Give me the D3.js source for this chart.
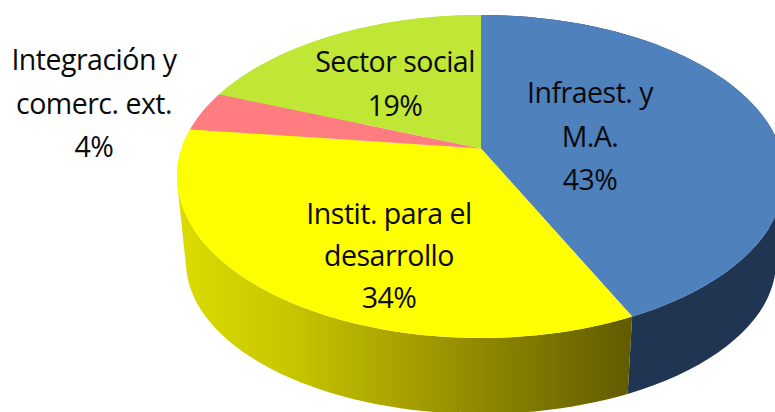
<!DOCTYPE html>
<html>
<head>
<meta charset="utf-8">
<script src="https://cdn.jsdelivr.net/npm/d3@7"></script>
<style>
html, body { margin: 0; padding: 0; background: #fff; overflow: hidden; }
text { font-family: "Open Sans", "Noto Sans", sans-serif; font-size: 28.5px; letter-spacing: -0.5px; fill: #0a0a0a; text-anchor: middle; }
</style>
</head>
<body>
<div id="chart"></div>
<script>
// values
var categories = ["Infraest. y M.A.", "Instit. para el desarrollo", "Integración y comerc. ext.", "Sector social"];
var values = [43, 34, 4, 19];
var labelLines = [["Infraest. y", "M.A.", "43%"], ["Instit. para el", "desarrollo", "34%"], ["Integración y", "comerc. ext.", "4%"], ["Sector social", "19%"]];
var topColors = ["#4f81bd", "#ffff00", "#ff7c80", "#c0e636"];

var w = 775, h = 412;

// where each label block goes (baseline of first line, line gap)
var labelPos = [
    {x: 590, y: 103, gap: 43.5},
    {x: 389, y: 224, gap: 42},
    {x: 94, y: 70, gap: 43.5},
    {x: 395, y: 72, gap: 44}
];

var svg = d3.select("#chart")
    .append("svg")
    .attr("width", w)
    .attr("height", h);

// gradient on the yellow side wall
var grad = svg.append("defs").append("linearGradient")
    .attr("id", "wall")
    .attr("gradientUnits", "userSpaceOnUse")
    .attr("x1", 177).attr("x2", 628).attr("y1", 0).attr("y2", 0);
grad.append("stop").attr("offset", "0%").attr("stop-color", "#dcdc00");
grad.append("stop").attr("offset", "25%").attr("stop-color", "#c8c600");
grad.append("stop").attr("offset", "55%").attr("stop-color", "#a09a00");
grad.append("stop").attr("offset", "100%").attr("stop-color", "#625c00");

var sideFill = ["#1f3552", "url(#wall)", "#ff7c80", "#c0e636"];

// unit disc to screen: top face and bottom rim each get their own scales
var xTop = d3.scaleLinear().domain([-1, 1]).range([177, 785]);
var yTop = d3.scaleLinear().domain([-1, 1]).range([15, 338]);
var xBot = d3.scaleLinear().domain([-1, 1]).range([186, 776]);
var yBot = d3.scaleLinear().domain([-1, 1]).range([110, 414]);

// tilt: pie centre sits above the middle of the ellipse
var tilt = -0.173;
function disc(a) {
    var u = Math.sin(a), v = -Math.cos(a), k = 1 + tilt * v;
    return [u * Math.sqrt(1 - tilt * tilt) / k, (v + tilt) / k];
}
function topPt(a) { var p = disc(a); return [xTop(p[0]), yTop(p[1])]; }
function botPt(a) { var p = disc(a); return [xBot(p[0]), yBot(p[1])]; }

var arcs = d3.pie().sort(null)(values);
var apex = [xTop(0), yTop(tilt)];

// side walls
svg.append("g").selectAll("path")
    .data(arcs)
    .enter()
    .append("path")
    .attr("fill", function(d, i) { return sideFill[i]; })
    .attr("d", function(d) {
        var p = d3.path();
        d3.range(0, 60).forEach(function(n) {
            var a0 = d.startAngle + (d.endAngle - d.startAngle) * n / 60;
            var a1 = d.startAngle + (d.endAngle - d.startAngle) * (n + 1) / 60;
            var q = [topPt(a0), topPt(a1), botPt(a1), botPt(a0)];
            // keep all quads wound the same way so they do not cancel
            if (d3.polygonArea(q) < 0) q.reverse();
            p.moveTo(q[0][0], q[0][1]);
            p.lineTo(q[1][0], q[1][1]);
            p.lineTo(q[2][0], q[2][1]);
            p.lineTo(q[3][0], q[3][1]);
            p.closePath();
        });
        return p.toString();
    });

// top face
svg.append("g").selectAll("path")
    .data(arcs)
    .enter()
    .append("path")
    .attr("fill", function(d, i) { return topColors[i]; })
    .attr("d", function(d) {
        var pts = [apex];
        d3.range(0, 121).forEach(function(n) {
            pts.push(topPt(d.startAngle + (d.endAngle - d.startAngle) * n / 120));
        });
        return d3.line()(pts) + "Z";
    });

// labels
var label = svg.append("g").selectAll("text")
    .data(labelLines)
    .enter()
    .append("text")
    .attr("aria-label", function(d, i) { return categories[i]; })
    .attr("transform", function(d, i) { return "translate(" + labelPos[i].x + "," + labelPos[i].y + ")"; });

label.selectAll("tspan")
    .data(function(d, i) { return d.map(function(t, n) { return {t: t, y: n * labelPos[i].gap}; }); })
    .enter()
    .append("tspan")
    .attr("x", 0)
    .attr("y", function(d) { return d.y; })
    .text(function(d) { return d.t; });
</script>
</body>
</html>
